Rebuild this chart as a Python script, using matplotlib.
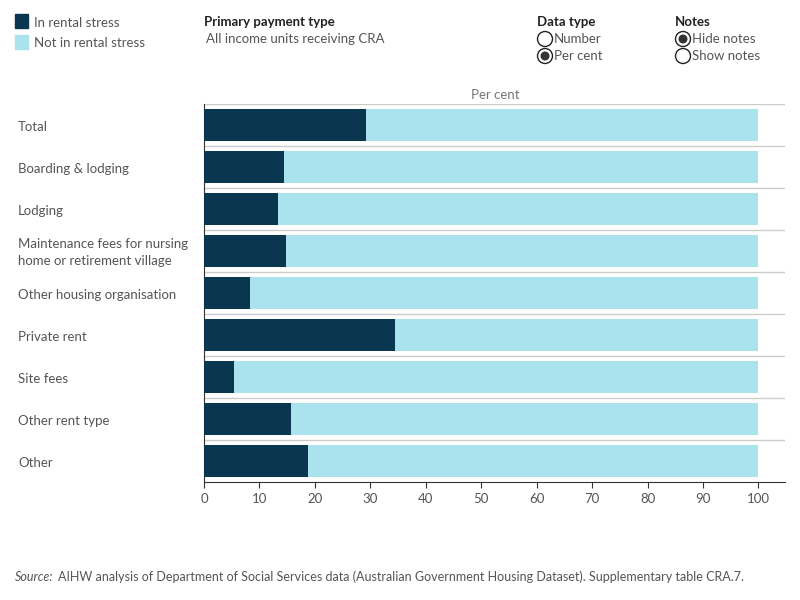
import matplotlib
matplotlib.use("Agg")
import matplotlib.pyplot as plt
from matplotlib.patches import Circle, Rectangle

categories = ["Total", "Boarding & lodging", "Lodging",
              "Maintenance fees for nursing\nhome or retirement village",
              "Other housing organisation", "Private rent", "Site fees",
              "Other rent type", "Other"]
in_stress = [29.3, 14.5, 13.3, 14.8, 8.3, 34.5, 5.5, 15.7, 18.8]
not_in_stress = [100 - v for v in in_stress]
xticks = [0, 10, 20, 30, 40, 50, 60, 70, 80, 90, 100]

DARK = "#0b3650"
LIGHT = "#aae3ee"
TXT = "#555555"
plt.rcParams['font.family'] = ['Lato', 'DejaVu Sans']

fig = plt.figure(figsize=(8, 6), dpi=100)
XMAX = 104.8
ax = fig.add_axes([204/800, 1-482/600, (785-204)/800, (482-104)/600])
n = len(categories)
ys = list(range(n))
ax.barh(ys, in_stress, height=0.76, color=DARK, zorder=3)
ax.barh(ys, not_in_stress, left=in_stress, height=0.76, color=LIGHT, zorder=3)
ax.set_ylim(n - 0.5, -0.5)
ax.set_xlim(0, XMAX)
for b in [i - 0.5 for i in range(n)]:
    ax.axhline(b, color="#cccccc", lw=1, zorder=1)
ax.set_yticks(ys)
ax.set_yticklabels([])
for y, c in zip(ys, categories):
    ax.text(-186/581*XMAX, y + 0.04, c, ha="left", va="center", fontsize=9.5, color=TXT,
            linespacing=1.5)
ax.set_xticks(xticks)
ax.set_xticklabels([str(t) for t in xticks], fontsize=9.5, color=TXT)
ax.tick_params(axis="x", length=4, color="#333333", pad=4)
ax.tick_params(axis="y", length=0)
for s in ["top", "right"]:
    ax.spines[s].set_visible(False)
ax.spines["left"].set_color("#333333")
ax.spines["bottom"].set_color("#333333")

# overlay in pixel coords
ov = fig.add_axes([0, 0, 1, 1])
ov.set_xlim(0, 800); ov.set_ylim(600, 0); ov.axis("off")
ov.add_patch(Rectangle((15, 14), 13, 14, color=DARK))
ov.add_patch(Rectangle((15, 35), 13, 14, color=LIGHT))
ov.text(34, 23, "In rental stress", va="center", fontsize=9.5, color=TXT)
ov.text(34, 43, "Not in rental stress", va="center", fontsize=9.5, color=TXT)
ov.text(204, 22, "Primary payment type", va="center", fontsize=9.5, color="#222222", fontweight="bold")
ov.text(206, 39, "All income units receiving CRA", va="center", fontsize=9.5, color=TXT)
ov.text(537, 22, "Data type", va="center", fontsize=9.5, color="#222222", fontweight="bold")
ov.text(675, 22, "Notes", va="center", fontsize=9.5, color="#222222", fontweight="bold")
radios = [(545, 39, "Number", False), (545, 56, "Per cent", True),
          (683, 39, "Hide notes", True), (683, 56, "Show notes", False)]
for x, y, lab, on in radios:
    ov.add_patch(Circle((x, y), 7.5, facecolor="white", edgecolor="#222222", lw=1))
    if on:
        ov.add_patch(Circle((x, y), 4.5, facecolor="#333333", edgecolor="none"))
    ov.text(x + 9, y, lab, va="center", fontsize=9.5, color=TXT)
ov.text(495, 95, "Per cent", ha="center", va="center", fontsize=9.5, color="#777777")
ov.text(15, 577, "Source:", va="center", fontsize=9, color=TXT, style="italic")
ov.text(58, 577, "AIHW analysis of Department of Social Services data (Australian Government Housing Dataset). Supplementary table CRA.7.",
        va="center", fontsize=9, color=TXT)

fig.savefig("out.png", dpi=100)
